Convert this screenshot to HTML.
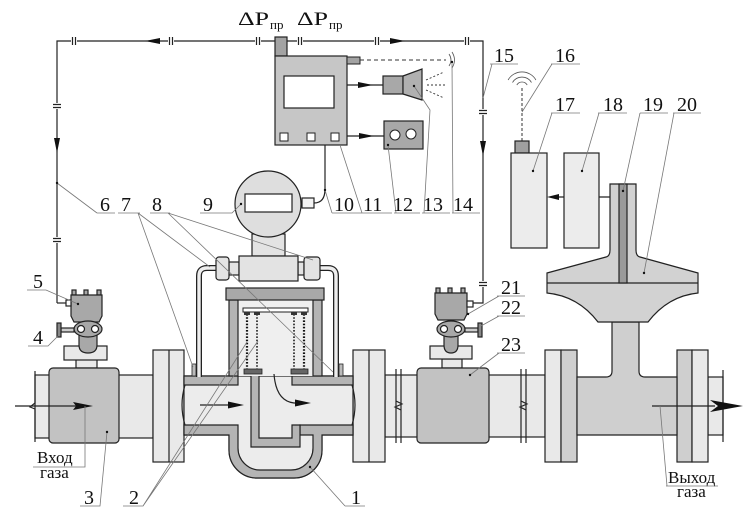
<!DOCTYPE html>
<html><head><meta charset="utf-8"><style>
html,body{margin:0;padding:0;background:#fff;}
svg{display:block;}
text{font-family:"Liberation Serif","DejaVu Serif",serif;fill:#111;}
</style></head><body>
<svg width="755" height="512" viewBox="0 0 755 512" xmlns="http://www.w3.org/2000/svg">
<rect width="755" height="512" fill="#fff"/>
<g stroke="#222" stroke-width="1.2" fill="none">
<!-- control lines -->
<path d="M57,303 V41 H483 V303 H473"/>
<path d="M57,303 H66"/>
</g>
<!-- break marks horizontal -->
<g fill="#fff" stroke="none">
<rect x="71" y="37" width="6" height="8"/><rect x="168" y="37" width="6" height="8"/><rect x="255" y="37" width="6" height="8"/>
<rect x="297" y="37" width="6" height="8"/><rect x="374" y="37" width="6" height="8"/><rect x="464" y="37" width="6" height="8"/>
<rect x="53" y="103" width="8" height="6"/><rect x="53" y="237" width="8" height="6"/>
<rect x="479" y="109" width="8" height="6"/><rect x="479" y="281" width="8" height="6"/>
</g>
<g stroke="#222" stroke-width="1.2">
<path d="M72.5,37V45M75.5,37V45M169.5,37V45M172.5,37V45M256.5,37V45M259.5,37V45M298.5,37V45M301.5,37V45M375.5,37V45M378.5,37V45M465.5,37V45M468.5,37V45"/>
<path d="M53,104.5H61M53,107.5H61M53,238.5H61M53,241.5H61M479,110.5H487M479,113.5H487M479,282.5H487M479,285.5H487"/>
</g>
<!-- arrows on control lines -->
<g fill="#111">
<polygon points="145,41 160,38 160,44"/>
<polygon points="405,41 390,38 390,44"/>
<polygon points="57,153 54,138 60,138"/>
<polygon points="483,156 480,141 486,141"/>
</g>

<!-- controller 11 -->
<rect x="275" y="37" width="12" height="19" fill="#a3a3a3" stroke="#222" stroke-width="1.2"/>
<rect x="275" y="56" width="72" height="89" fill="#c6c6c6" stroke="#222" stroke-width="1.2"/>
<rect x="347" y="57" width="13" height="7" fill="#a3a3a3" stroke="#222" stroke-width="1"/>
<rect x="284" y="76" width="50" height="32" fill="#fff" stroke="#222" stroke-width="1.2"/>
<rect x="280" y="133" width="8" height="8" fill="#fff" stroke="#222"/>
<rect x="307" y="133" width="8" height="8" fill="#fff" stroke="#222"/>
<rect x="331" y="133" width="8" height="8" fill="#fff" stroke="#222"/>
<path d="M360,60 H446" stroke="#333" stroke-width="1" stroke-dasharray="4 3"/>
<path d="M449,54 Q453,60 449,66 M452,52 Q457,60 452,68" stroke="#555" stroke-width="0.8" fill="none"/>
<!-- arrows to 13 and 12 -->
<path d="M347,85 H383 M347,136 H384" stroke="#222" stroke-width="1.2"/>
<polygon points="373,85 358,82 358,88" fill="#111"/>
<polygon points="374,136 359,133 359,139" fill="#111"/>
<!-- speaker 13 -->
<rect x="383" y="76" width="20" height="18" fill="#a8a8a8" stroke="#222" stroke-width="1.2"/>
<polygon points="403,76 422,69 422,100 403,94" fill="#b0b0b0" stroke="#222" stroke-width="1.2"/>
<path d="M426,80 L444,72 M427,85 H446 M426,90 L444,98" stroke="#333" stroke-width="0.9" stroke-dasharray="2 2"/>
<!-- 12 -->
<rect x="384" y="121" width="39" height="28" fill="#a8a8a8" stroke="#222" stroke-width="1.2"/>
<circle cx="395" cy="135" r="5" fill="#fff" stroke="#222"/>
<circle cx="411" cy="134" r="5" fill="#fff" stroke="#222"/>
<!-- wire 11 -> 9 -->
<path d="M325,145 V189 Q325,203 314,203" stroke="#222" stroke-width="1.2" fill="none"/>

<!-- 17, 18 -->
<path d="M522,141 V88" stroke="#333" stroke-width="1" stroke-dasharray="3 2"/>
<path d="M516.8,85 A6,6 0 0 1 527.2,85 M512.5,82.5 A11,11 0 0 1 531.5,82.5 M508.1,80 A16,16 0 0 1 535.9,80" stroke="#555" stroke-width="0.8" fill="none"/>
<rect x="515" y="141" width="14" height="12" fill="#a0a0a0" stroke="#222" stroke-width="1.2"/>
<rect x="511" y="153" width="36" height="95" fill="#ececec" stroke="#222" stroke-width="1.2"/>
<rect x="564" y="153" width="35" height="95" fill="#ececec" stroke="#222" stroke-width="1.2"/>
<path d="M557,197 H564 M599,197 H619" stroke="#222" stroke-width="1.2"/>
<polygon points="547,197 559,194 559,200" fill="#111"/>

<!-- pipes -->
<g fill="#e9e9e9" stroke="#222" stroke-width="1.2">
<rect x="35" y="375" width="118" height="63"/>
<rect x="385" y="375" width="160" height="62"/>
<rect x="708" y="377" width="15" height="58"/>
</g>
<!-- breaks -->
<g stroke="#222" stroke-width="1.2" fill="none">
<path d="M35,371 V403 L30,407 L35,409 V442"/>
<path d="M396,369 V443 M401,369 V443 M396,401 L402,404 L395,407 L401,410"/>
<path d="M521,369 V443 M526,369 V443 M521,401 L527,404 L520,407 L526,410"/>
<path d="M723,370 V403 L727,407 L723,409 V442"/>
</g>
<!-- flanges -->
<g stroke="#222" stroke-width="1.2">
<rect x="153" y="350" width="31" height="112" fill="#e9e9e9"/>
<path d="M169,350 V462"/>
<rect x="353" y="350" width="32" height="112" fill="#e9e9e9"/>
<path d="M369,350 V462"/>
<rect x="545" y="350" width="16" height="112" fill="#e9e9e9"/>
<rect x="561" y="350" width="16" height="112" fill="#cfcfcf"/>
<rect x="677" y="350" width="15" height="112" fill="#cfcfcf"/>
<rect x="692" y="350" width="16" height="112" fill="#e9e9e9"/>
</g>
<!-- regulating valve -->
<path d="M577,377 H606 Q612,377 612,371 V322 H639 V371 Q639,377 645,377 H677 V435 H577 Z" fill="#cfcfcf" stroke="#222" stroke-width="1.2"/>
<path d="M547,273 L606,257 Q610,256 610,250 V184 H636 V250 Q636,256 640,257 L698,273 V293 Q668,296 648,322 H598 Q578,296 547,293 Z" fill="#d2d2d2" stroke="#222" stroke-width="1.2"/>
<path d="M547,283 H698" stroke="#222" stroke-width="1.2"/>
<rect x="619" y="184" width="8" height="99" fill="#9a9a9a" stroke="#222" stroke-width="1.2"/>

<!-- filter body -->
<path d="M184,376 H353 V435 H322 V450 A28,28 0 0 1 294,478 H257 A28,28 0 0 1 229,450 V435 H184 Z" fill="#ececec" stroke="#222" stroke-width="1.2"/>
<g fill="#b4b4b4" stroke="#222" stroke-width="1.2">
<rect x="184" y="376" width="54" height="9"/>
<rect x="292" y="376" width="61" height="9"/>
<path d="M184,425 H238 V448 A22,22 0 0 0 260,470 H291 A22,22 0 0 0 313,448 V435 H300 V425 H353 V435 H322 V450 A28,28 0 0 1 294,478 H257 A28,28 0 0 1 229,450 V435 H184 Z"/>
<path d="M251,374 H259 V438 H292 V425 H300 V447 H251 Z"/>
</g>
<path d="M185,385 Q179,405 185,425 M352,385 Q358,405 352,425" stroke="#222" stroke-width="1.2" fill="none"/>
<!-- housing -->
<rect x="238" y="300" width="75" height="76" fill="#efefef"/>
<rect x="229" y="300" width="9" height="76" fill="#b4b4b4" stroke="#222" stroke-width="1.2"/>
<rect x="313" y="300" width="9" height="76" fill="#b4b4b4" stroke="#222" stroke-width="1.2"/>
<rect x="226" y="288" width="98" height="12" fill="#a9a9a9" stroke="#222" stroke-width="1.2"/>
<rect x="243" y="308" width="65" height="4" fill="#fff" stroke="#222" stroke-width="1"/>
<g stroke="#111" stroke-width="2.2" stroke-dasharray="1.6 1.6">
<path d="M247,314 V369 M304,314 V369"/>
</g>
<g stroke="#444" stroke-width="2" stroke-dasharray="1.6 1.6">
<path d="M257,314 V369 M294,314 V369"/>
</g>
<g fill="#333"><rect x="244" y="312" width="6" height="3"/><rect x="254" y="312" width="6" height="3"/><rect x="291" y="312" width="6" height="3"/><rect x="301" y="312" width="6" height="3"/></g>
<rect x="244" y="369" width="18" height="5" fill="#666" stroke="#222" stroke-width="0.8"/>
<rect x="291" y="369" width="17" height="5" fill="#666" stroke="#222" stroke-width="0.8"/>
<!-- tubes -->
<path d="M199,377 V276 Q199,268 207,268 H218" stroke="#222" stroke-width="6" fill="none"/>
<path d="M199,377 V276 Q199,268 207,268 H218" stroke="#eee" stroke-width="3.4" fill="none"/>
<path d="M336,377 V276 Q336,268 328,268 H318" stroke="#222" stroke-width="6" fill="none"/>
<path d="M336,377 V276 Q336,268 328,268 H318" stroke="#eee" stroke-width="3.4" fill="none"/>
<rect x="192" y="364" width="4" height="12" fill="#bbb" stroke="#222" stroke-width="0.8"/>
<rect x="339" y="364" width="4" height="12" fill="#bbb" stroke="#222" stroke-width="0.8"/>
<!-- manifold -->
<g fill="#e3e3e3" stroke="#222" stroke-width="1.2">
<rect x="252" y="234" width="33" height="22"/>
<rect x="229" y="262" width="10" height="13"/>
<rect x="298" y="262" width="6" height="13"/>
<rect x="216" y="257" width="13" height="23" rx="3"/>
<rect x="239" y="256" width="59" height="25"/>
<rect x="304" y="257" width="16" height="23" rx="3"/>
</g>
<!-- 9 -->
<circle cx="268" cy="204" r="33" fill="#dedede" stroke="#222" stroke-width="1.2"/>
<rect x="245" y="194" width="47" height="18" fill="#fff" stroke="#222" stroke-width="1.2"/>
<rect x="302" y="198" width="12" height="10" fill="#f4f4f4" stroke="#222" stroke-width="1.2"/>

<!-- meter 3 assembly -->
<g stroke="#222" stroke-width="1.2">
<rect x="76" y="359" width="21" height="9" fill="#e9e9e9"/>
<rect x="64" y="346" width="43" height="14" fill="#e9e9e9"/>
<path d="M79,333 V345 Q79,353 88,353 Q97,353 97,345 V333 Z" fill="#a8a8a8"/>
<rect x="72" y="290" width="4" height="5" fill="#a8a8a8"/><rect x="84" y="290" width="4" height="5" fill="#a8a8a8"/><rect x="97" y="290" width="4" height="5" fill="#a8a8a8"/>
<path d="M71,295 H102 V316 L99,322 H74 L71,316 Z" fill="#a8a8a8"/>
<ellipse cx="88" cy="329" rx="14" ry="8" fill="#a8a8a8"/>
<circle cx="81" cy="329" r="3.5" fill="#fff"/><circle cx="95" cy="329" r="3.5" fill="#fff"/>
<rect x="66" y="300" width="5" height="6" fill="#fff"/>
<rect x="61" y="328" width="13" height="4" fill="#ccc"/>
<rect x="57" y="323" width="4" height="14" fill="#888"/>
<rect x="49" y="368" width="70" height="75" rx="4" fill="#c2c2c2"/>
</g>
<!-- meter 23 assembly -->
<g stroke="#222" stroke-width="1.2">
<rect x="442" y="359" width="20" height="9" fill="#e9e9e9"/>
<rect x="430" y="346" width="42" height="13" fill="#e9e9e9"/>
<path d="M444,333 V345 Q444,353 451,353 Q458,353 458,345 V333 Z" fill="#a8a8a8"/>
<rect x="436" y="288" width="4" height="5" fill="#a8a8a8"/><rect x="448" y="288" width="4" height="5" fill="#a8a8a8"/><rect x="461" y="288" width="4" height="5" fill="#a8a8a8"/>
<path d="M435,293 H467 V314 L464,320 H438 L435,314 Z" fill="#a8a8a8"/>
<ellipse cx="451" cy="329" rx="14" ry="8" fill="#a8a8a8"/>
<circle cx="444" cy="329" r="3.5" fill="#fff"/><circle cx="458" cy="329" r="3.5" fill="#fff"/>
<rect x="467" y="301" width="6" height="6" fill="#fff"/>
<rect x="465" y="328" width="13" height="4" fill="#ccc"/>
<rect x="478" y="323" width="4" height="14" fill="#888"/>
<rect x="417" y="368" width="72" height="75" rx="4" fill="#c2c2c2"/>
</g>

<!-- flow arrows -->
<path d="M15,406 H80" stroke="#222" stroke-width="1.2"/>
<polygon points="93,406 73,402 76,406 73,410" fill="#111"/>
<path d="M200,405 H232" stroke="#222" stroke-width="1.2"/>
<polygon points="244,405 228,401.5 228,408.5" fill="#111"/>
<path d="M274,374 Q276,401 294,403 H300" stroke="#222" stroke-width="1.2" fill="none"/>
<polygon points="311,403 295,399.5 295,406.5" fill="#111"/>
<path d="M652,406 H715" stroke="#222" stroke-width="1.2"/>
<polygon points="743,406 710,400 718,406 710,412" fill="#111"/>

<!-- leader lines -->
<g stroke="#777" stroke-width="0.8" fill="none">
<path d="M97,213 H115 M97,213 L57,183"/>
<path d="M118,213 H140 M138,213 L193,367 M138,213 L210,267"/>
<path d="M150,213 H170 M168,213 L313,260 M168,213 L333,372"/>
<path d="M200,213 H232 L241,204"/>
<path d="M332,213 H362 M332,213 L325,190"/>
<path d="M362,213 H392 M362,213 L340,145"/>
<path d="M394,213 H420 M396,213 L388,145"/>
<path d="M422,213 H450 M424,213 L430,110 L414,86"/>
<path d="M452,213 H480 M453,213 L452,62"/>
<path d="M490,64 H518 M492,64 L483,98"/>
<path d="M551,64 H580 M552,64 L522,112"/>
<path d="M551,113 H580 M552,113 L533,171"/>
<path d="M598,113 H627 M599,113 L582,171"/>
<path d="M640,113 H668 M640,113 L623,191"/>
<path d="M673,113 H701 M674,113 L644,273"/>
<path d="M497,296 H525 M499,296 L468,314"/>
<path d="M497,316 H525 M499,316 L481,326"/>
<path d="M497,353 H525 M499,353 L470,375"/>
<path d="M27,290 H46 L78,304"/>
<path d="M28,346 H48 L58,336"/>
<path d="M80,506 H100 L107,432"/>
<path d="M123,506 H143 L247,342 M143,506 L258,341"/>
<path d="M345,506 H365 M345,506 L310,467"/>
<path d="M33,467 H85 V406"/>
<path d="M666,486 H718 M667,486 L660,406"/>
</g>
<g fill="#111">
<circle cx="57" cy="183" r="1.2"/><circle cx="241" cy="204" r="1.2"/><circle cx="325" cy="190" r="1.2"/>
<circle cx="388" cy="145" r="1.2"/><circle cx="414" cy="86" r="1.2"/><circle cx="452" cy="62" r="1.2"/>
<circle cx="533" cy="171" r="1.2"/><circle cx="582" cy="171" r="1.2"/><circle cx="623" cy="191" r="1.2"/>
<circle cx="644" cy="273" r="1.2"/><circle cx="78" cy="304" r="1.2"/><circle cx="107" cy="432" r="1.2"/>
<circle cx="310" cy="467" r="1.2"/><circle cx="470" cy="375" r="1.2"/><circle cx="468" cy="314" r="1.2"/>
</g>

<!-- labels -->
<g font-size="20">
<text x="100" y="211">6</text>
<text x="121" y="211">7</text>
<text x="152" y="211">8</text>
<text x="203" y="211">9</text>
<text x="334" y="211">10</text>
<text x="363" y="211">11</text>
<text x="393" y="211">12</text>
<text x="423" y="211">13</text>
<text x="453" y="211">14</text>
<text x="494" y="62">15</text>
<text x="555" y="62">16</text>
<text x="555" y="111">17</text>
<text x="603" y="111">18</text>
<text x="643" y="111">19</text>
<text x="677" y="111">20</text>
<text x="501" y="294">21</text>
<text x="501" y="314">22</text>
<text x="501" y="351">23</text>
<text x="33" y="288">5</text>
<text x="33" y="344">4</text>
<text x="84" y="504">3</text>
<text x="129" y="504">2</text>
<text x="351" y="504">1</text>
</g>
<g font-size="17">
<text x="37" y="463">Вход</text>
<text x="40" y="478">газа</text>
<text x="668" y="483">Выход</text>
<text x="677" y="497">газа</text>
</g>
<text x="238" y="25" font-size="19" textLength="31" lengthAdjust="spacingAndGlyphs">ΔP</text>
<text x="270" y="29" font-size="13">пр</text>
<text x="297" y="25" font-size="19" textLength="31" lengthAdjust="spacingAndGlyphs">ΔP</text>
<text x="329" y="29" font-size="13">пр</text>
</svg>
</body></html>
